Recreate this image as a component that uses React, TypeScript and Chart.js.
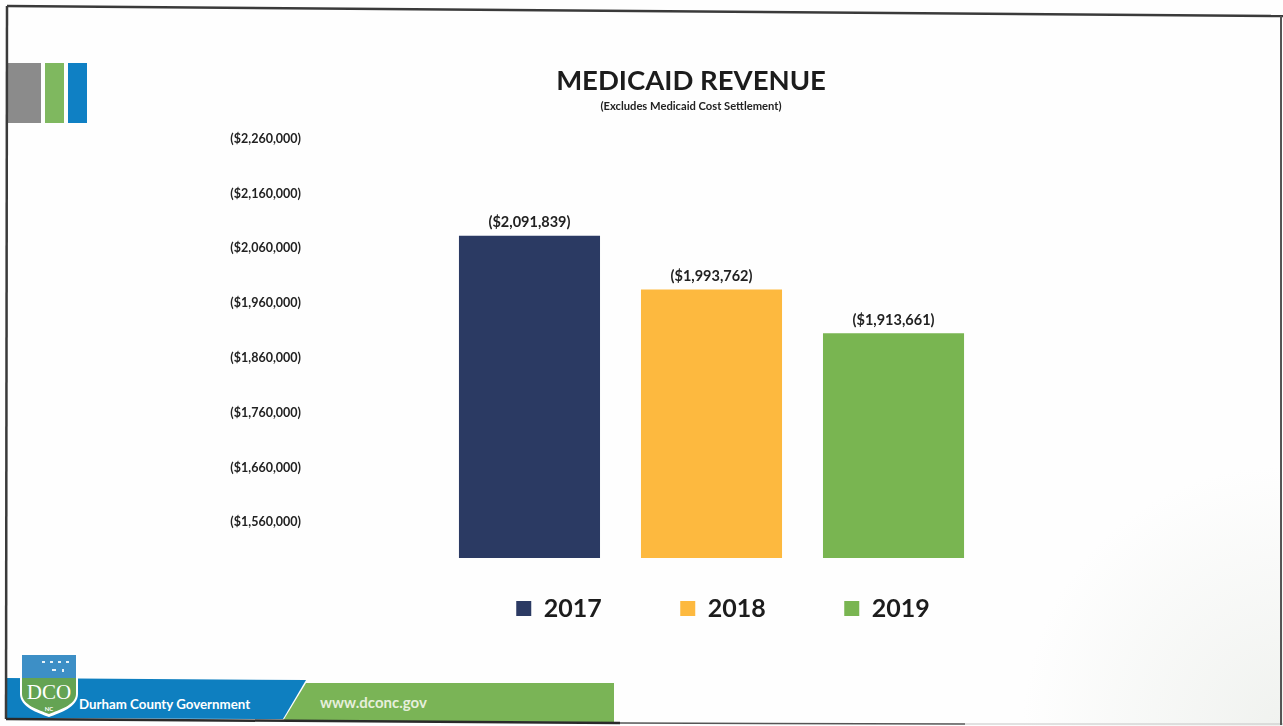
import React, { useEffect, useRef } from "react";
import { Chart, registerables } from "chart.js";

Chart.register(...registerables);

const categories = ["Medicaid Revenue"];
const years = ["2017", "2018", "2019"];
const revenue = [2091839, 1993762, 1913661];
const barColors = ["#2b3a63", "#fdb93f", "#79b551"];
const tickValues = [1560000, 1660000, 1760000, 1860000, 1960000, 2060000, 2160000, 2260000];
const titleText = "MEDICAID REVENUE";
const subtitleText = "(Excludes Medicaid Cost Settlement)";

const FONT = "Lato, 'Open Sans', sans-serif";
const money = (v: number) => "($" + Math.round(v).toLocaleString("en-US") + ")";

const placeBlocks = {
  id: "placeBlocks",
  afterLayout(chart: any) {
    for (const box of chart.boxes) {
      if (box === chart.legend) {
        box.left = 723 - 641;
        box.right = 723 + 641;
        box.top = 517.5;
      } else if (box === chart.titleBlock || box.options?.text === subtitleText) {
        box.left = 691 - 400;
        box.right = 691 + 400;
      }
    }
  },
};

const barValueLabels = {
  id: "barValueLabels",
  afterDatasetsDraw(chart: any) {
    const { ctx } = chart;
    ctx.save();
    ctx.font = `700 14.5px ${FONT}`;
    ctx.fillStyle = "#222222";
    ctx.textAlign = "center";
    ctx.textBaseline = "bottom";
    chart.data.datasets.forEach((ds: any, i: number) => {
      chart.getDatasetMeta(i).data.forEach((bar: any, j: number) => {
        ctx.fillText(money(ds.data[j]), bar.x, bar.y - 6);
      });
    });
    ctx.restore();
  },
};

function Decor() {
  return (
    <svg width={1283} height={726} style={{ position: "absolute", left: 0, top: 0 }}>
      <defs>
        <radialGradient id="scanShade" gradientUnits="userSpaceOnUse" cx={1283} cy={726} r={260}>
          <stop offset="0" stopColor="#f0f2ef" />
          <stop offset="1" stopColor="#fefefe" />
        </radialGradient>
      </defs>
      <rect x={0} y={0} width={1283} height={726} fill="url(#scanShade)" />
      <rect x={8} y={63} width={33} height={60} fill="#8b8b8b" />
      <rect x={45} y={63} width={19} height={60} fill="#7fb85f" />
      <rect x={68} y={63} width={19} height={60} fill="#0f80c4" />
      <polygon points="6,678 306,680 283,719 6,718" fill="#0e7fc0" />
      <polygon points="306,683 614,683 614,722 283,721" fill="#7ab456" />
      <path d="M20,653 H78 V694 C78,707 60,713 49,717 C38,713 20,707 20,694 Z" fill="#ffffff" />
      <rect x={22} y={655} width={54} height={23} fill="#3d8fc6" />
      <g fill="#e8f2f8">
        <rect x={42} y={661} width={3} height={2} />
        <rect x={50} y={661} width={3} height={2} />
        <rect x={58} y={661} width={3} height={2} />
        <rect x={66} y={661} width={3} height={2} />
        <rect x={52} y={669} width={4} height={2} />
        <rect x={62} y={669} width={2} height={3} />
      </g>
      <path d="M22,678 H76 V694 C76,705 59,710 49,714 C39,710 22,705 22,694 Z" fill="#64a353" />
      <text x={49} y={699} textAnchor="middle" fontFamily="'Liberation Serif', serif" fontSize={21} fontWeight={400} fill="#ffffff">DCO</text>
      <text x={49} y={711} textAnchor="middle" fontFamily={FONT} fontSize={6} fontWeight={700} fill="#ffffff">NC</text>
      <text x={79} y={709} fontFamily={FONT} fontSize={13.3} fontWeight={700} fill="#ffffff">Durham County Government</text>
      <text x={320} y={708} fontFamily={FONT} fontSize={15} fontWeight={700} fill="#e6efdc">www.dconc.gov</text>
      <line x1={7} y1={6} x2={1283} y2={16} stroke="#3a3a3a" strokeWidth={2.5} />
      <line x1={7} y1={6} x2={6} y2={719} stroke="#3a3a3a" strokeWidth={2.5} />
      <line x1={6} y1={719} x2={620} y2={723} stroke="#2a2a2a" strokeWidth={2.5} />
      <line x1={620} y1={723} x2={965} y2={724} stroke="#555555" strokeWidth={1.5} />
      <line x1={965} y1={724} x2={1283} y2={724} stroke="#c4c4c4" strokeWidth={1} />
      <line x1={1281} y1={16} x2={1281} y2={725} stroke="#555555" strokeWidth={2} />
    </svg>
  );
}

export default function App() {
  const ref = useRef<HTMLCanvasElement>(null);

  useEffect(() => {
    const chart = new Chart(ref.current as HTMLCanvasElement, {
      type: "bar",
      data: {
        labels: categories,
        datasets: years.map((year, i) => ({
          label: year,
          data: [revenue[i]],
          backgroundColor: barColors[i],
          borderWidth: 0,
        })),
      },
      options: {
        responsive: false,
        animation: false,
        categoryPercentage: 0.68,
        barPercentage: 0.775,
        layout: { padding: { left: 0, right: 170, top: 0, bottom: 54.5 } },
        scales: {
          x: { display: false },
          y: {
            min: 1503500,
            max: 2304000,
            afterBuildTicks(axis: any) {
              axis.ticks = tickValues.map((value) => ({ value }));
            },
            afterFit(axis: any) {
              axis.width = 310;
            },
            grid: { display: false },
            border: { display: false },
            ticks: {
              padding: 1,
              labelOffset: -4.7,
              color: "#222222",
              font: { family: FONT, size: 12.5, weight: "bold" },
              callback: (v: any) => money(Number(v)),
            },
          },
        },
        plugins: {
          tooltip: { enabled: false },
          title: {
            display: true,
            text: titleText,
            color: "#1c1c1c",
            font: { family: FONT, size: 27.5, weight: "bold" },
            padding: { top: 65, bottom: 2 },
          },
          subtitle: {
            display: true,
            text: subtitleText,
            color: "#222222",
            font: { family: FONT, size: 11.2, weight: "bold" },
            padding: { top: 0, bottom: 6 },
          },
          legend: {
            display: true,
            position: "bottom",
            labels: {
              boxWidth: 15,
              boxHeight: 15,
              padding: 78.5,
              color: "#1c1c1c",
              font: { family: FONT, size: 25, weight: "bold" },
            },
          },
        },
      },
      plugins: [placeBlocks, barValueLabels],
    } as any);
    return () => chart.destroy();
  }, []);

  return (
    <div style={{ position: "absolute", left: 0, top: 0, width: 1283, height: 726, overflow: "hidden", background: "#fefefe" }}>
      <Decor />
      <canvas ref={ref} width={1283} height={726} style={{ position: "absolute", left: 0, top: 0 }} />
    </div>
  );
}
